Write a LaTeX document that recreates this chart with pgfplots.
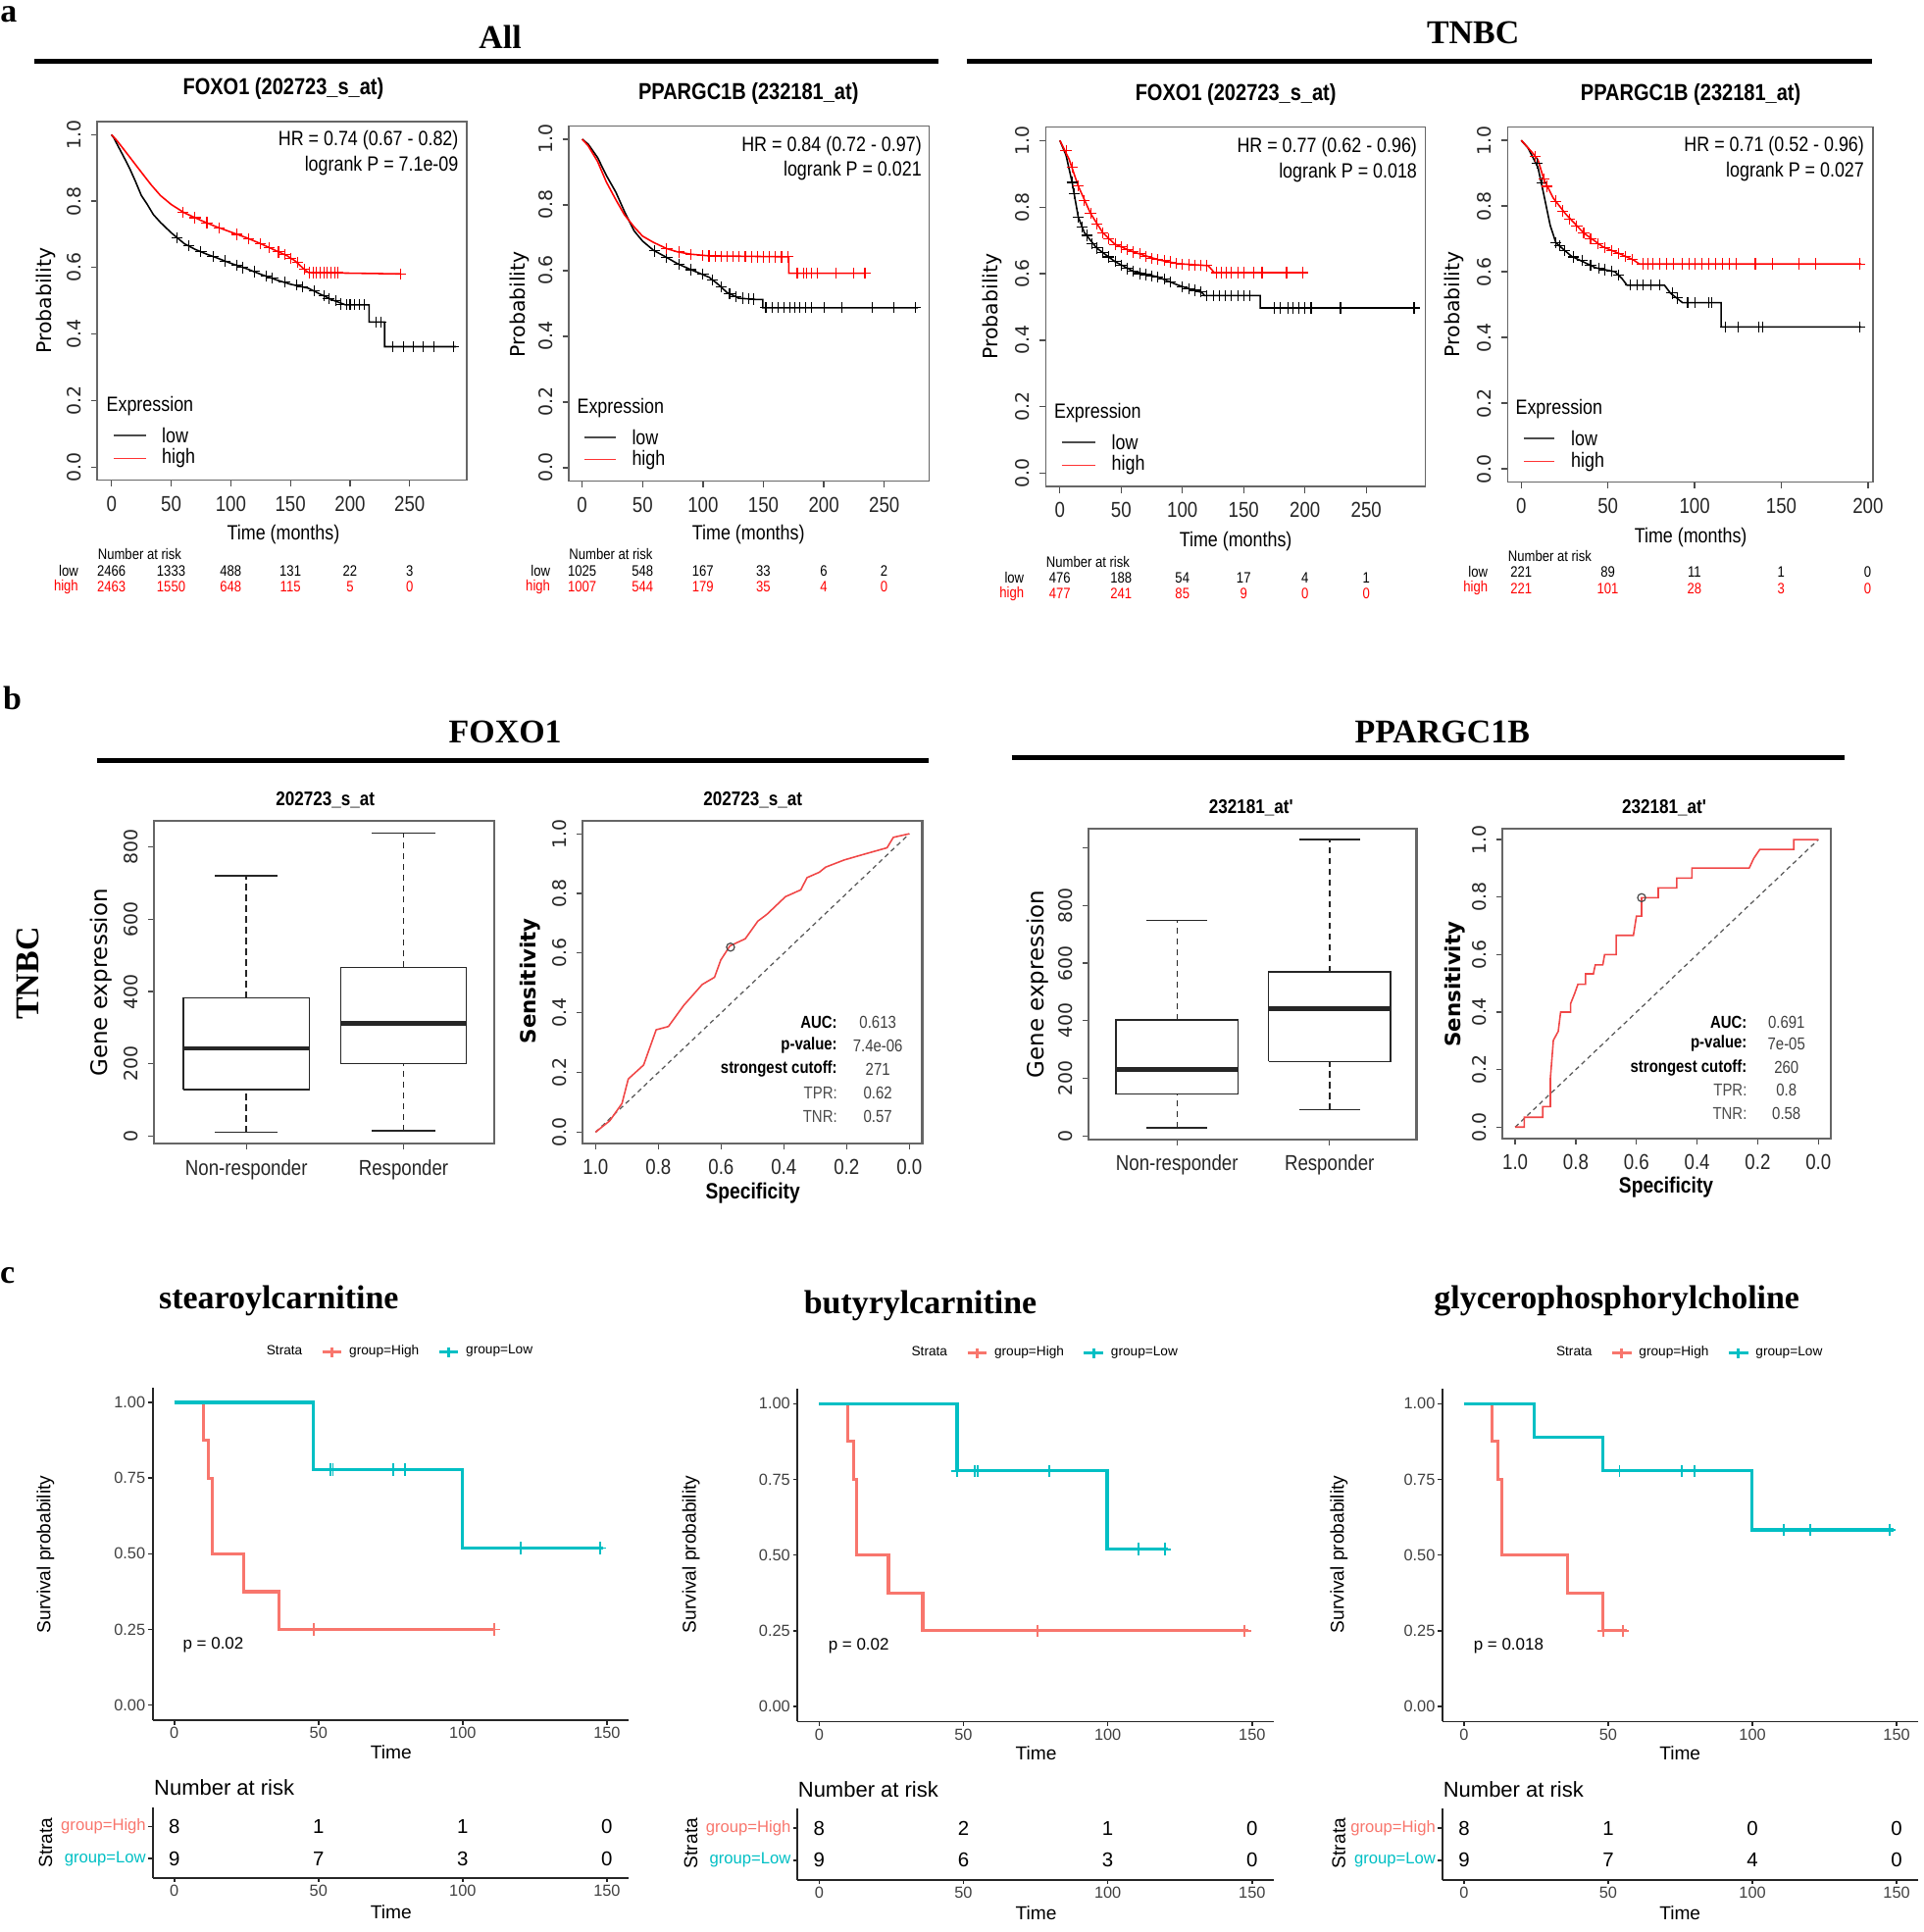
\documentclass[border=0pt]{standalone}
\usepackage{fontspec}
\setmainfont{Liberation Sans}
\newfontfamily\cond[FakeStretch=0.85]{Liberation Sans}
\newfontfamily\dejavu{DejaVu Sans}
\newfontfamily\timesf{Liberation Serif}
\usepackage{pgfplots}
\pgfplotsset{compat=1.18}

\definecolor{kmred}{HTML}{F8766D}
\definecolor{kmcyan}{HTML}{00BFC4}
\definecolor{rocred}{RGB}{240,70,70}

% fonts
\newcommand{\fTa}{\cond\bfseries\fontsize{7.5}{9}\selectfont}
\newcommand{\fHa}{\cond\fontsize{6.7}{8}\selectfont}
\newcommand{\fPa}{\dejavu\fontsize{6.5}{8}\selectfont}
\newcommand{\fRa}{\cond\fontsize{4.9}{6}\selectfont}
\newcommand{\fBig}{\timesf\bfseries\fontsize{10.8}{13}\selectfont}
\newcommand{\fTb}{\cond\bfseries\fontsize{6.4}{8}\selectfont}
\newcommand{\fGE}{\dejavu\fontsize{7.3}{9}\selectfont}
\newcommand{\fSe}{\dejavu\bfseries\fontsize{6.8}{8}\selectfont}
\newcommand{\fSp}{\cond\bfseries\fontsize{7.2}{9}\selectfont}
\newcommand{\fRoc}{\cond\fontsize{5.6}{7}\selectfont}
\newcommand{\fRocb}{\cond\bfseries\fontsize{5.6}{7}\selectfont}
\newcommand{\fC}{\fontsize{6.1}{7}\selectfont}

\tikzset{rn/.style={font=\fontsize{6.5}{7}\selectfont}}

\pgfplotsset{
  rbase/.style={scale only axis, axis line style={black!60, line width=0.5pt},
    tick style={black!70, line width=0.4pt}, tick align=outside, tick pos=left,
    major tick length=2pt,
    yticklabel style={rotate=90, anchor=south, inner sep=0pt, font=\dejavu\fontsize{6}{7}\selectfont, text=black!85},
    xticklabel style={inner sep=0pt, font=\cond\fontsize{7}{8}\selectfont, text=black!85},
    xticklabel shift=3pt, yticklabel shift=3pt},
  kma/.style={rbase, ymin=-0.04, ymax=1.04, ytick={0,0.2,0.4,0.6,0.8,1},
    yticklabels={0.0,0.2,0.4,0.6,0.8,1.0}},
  lowc/.style={black, line width=0.5pt},
  highc/.style={red, line width=0.5pt},
  cens/.style={only marks, mark=+, mark size=1.8pt, mark options={line width=0.35pt}},
  boxl/.style={black!85, line width=0.5pt},
  dsh/.style={black!85, line width=0.5pt, dash pattern=on 2pt off 1.5pt},
  gg/.style={scale only axis, axis lines=left, axis line style={-, black!85, line width=0.55pt},
    tick style={black!85, line width=0.5pt}, tick align=outside, major tick length=1.4pt,
    ticklabel style={font=\fontsize{5.2}{6}\selectfont, text=black!75},
    xticklabel style={inner sep=0.3pt}, xticklabel shift=0.4pt,
    xmin=-7.5, xmax=157.5, xtick={0,50,100,150}, xticklabels={0,50,100,150}},
  ggkm/.style={gg, ymin=-0.05, ymax=1.05, ytick={0,0.25,0.5,0.75,1},
    yticklabels={0.00,0.25,0.50,0.75,1.00},
    yticklabel style={inner sep=0.3pt}, yticklabel shift=0.5pt,
    legend columns=3,
    legend style={draw=none, fill=none, at={(0.519,1.106)}, anchor=center,
      font=\fontsize{4.35}{5}\selectfont, inner sep=0pt,
      /tikz/every even column/.append style={column sep=4pt}},
    legend image code/.code={\draw[mark repeat=2,mark phase=2,##1] plot coordinates {(0cm,0cm) (0.11cm,0cm) (0.22cm,0cm)};}},
  ggrisk/.style={gg, ymin=0.4, ymax=2.6, ytick={1,2},
    yticklabels={{\color{kmcyan}group=Low},{\color{kmred}group=High}},
    yticklabel style={font=\fontsize{5.3}{6}\selectfont, inner sep=0.6pt}},
  kmr/.style={kmred, line width=1pt},
  kmc/.style={kmcyan, line width=1pt},
  kmm/.style={only marks, mark=+, mark size=2pt, mark options={line width=0.6pt}},
}

\begin{document}
\begin{tikzpicture}[x=0.4pt, y=-0.4pt]
\useasboundingbox (0,0) rectangle (1561,1568);

% ================= panel a =================
\node[font=\fBig, inner sep=0, anchor=north] at (7,5) {a};
\node[font=\fBig] at (406,30) {All};
\node[font=\fBig] at (1195.6,27) {TNBC};
\draw[line width=1.6pt] (27.5,50) -- (761.5,50);
\draw[line width=1.6pt] (785,49.4) -- (1519.5,49.4);

% a1 FOXO1 all
\begin{axis}[kma, at={(31.6pt,-39.4pt)}, anchor=north west, width=120pt, height=116.5pt,
  xmin=-11.9, xmax=298, xtick={0,50,100,150,200,250}, xticklabels={0,50,100,150,200,250}]
\addplot[lowc] coordinates {(0,1)(2,0.99)(5,0.969)(10,0.935)(15,0.9)(20,0.86)(25,0.817)(30,0.79)(35,0.76)(41,0.736)(50,0.705)(61,0.672)(70,0.655)(80,0.64)(87,0.631)(100,0.613)(113,0.597)(125,0.58)(139,0.562)(150,0.55)(165,0.538)(175,0.52)(185,0.503)(196,0.488)(216,0.488)(216,0.436)(229,0.436)(229,0.362)(289,0.362)};
\addplot[lowc, cens] coordinates {(55,0.69)(65,0.665)(75,0.648)(85,0.633)(95,0.62)(105,0.607)(110,0.6)(120,0.588)(130,0.575)(135,0.568)(145,0.556)(155,0.547)(160,0.542)(170,0.53)(178,0.515)(182,0.507)(188,0.5)(192,0.49)(197,0.488)(200,0.488)(204,0.488)(208,0.488)(212,0.488)(222,0.436)(226,0.436)(236,0.362)(245,0.362)(253,0.362)(261,0.362)(270,0.362)(287,0.362)};
\addplot[highc] coordinates {(0,1)(5,0.98)(10,0.957)(17.5,0.922)(25,0.887)(33,0.85)(41,0.817)(50,0.79)(61,0.765)(75,0.742)(87,0.724)(100,0.707)(113,0.69)(125,0.672)(139,0.649)(147,0.636)(154,0.62)(160,0.6)(165,0.585)(242,0.581)};
\addplot[highc, cens] coordinates {(60,0.766)(70,0.75)(80,0.735)(90,0.72)(105,0.7)(115,0.687)(125,0.672)(132,0.66)(140,0.647)(145,0.64)(150,0.628)(156,0.615)(162,0.595)(166,0.585)(169,0.585)(172,0.585)(175,0.585)(178,0.585)(181,0.585)(184,0.585)(187,0.585)(190,0.585)(242,0.581)};
\end{axis}

% a2 PPARGC1B all
\begin{axis}[kma, at={(184.6pt,-40.92pt)}, anchor=north west, width=117pt, height=115.2pt,
  xmin=-11.2, xmax=287, xtick={0,50,100,150,200,250}, xticklabels={0,50,100,150,200,250}]
\addplot[lowc] coordinates {(0,1)(5,0.985)(12.8,0.944)(20,0.89)(28,0.838)(35,0.78)(43,0.721)(50,0.69)(59,0.662)(70,0.64)(79,0.621)(90,0.603)(105,0.58)(112,0.56)(120,0.533)(130,0.516)(145,0.512)(149.5,0.512)(149.5,0.487)(278,0.487)};
\addplot[lowc, cens] coordinates {(60,0.66)(70,0.64)(80,0.62)(90,0.603)(100,0.59)(108,0.572)(115,0.55)(122,0.53)(127,0.52)(133,0.516)(138,0.514)(142,0.513)(152,0.487)(157,0.487)(162,0.487)(167,0.487)(172,0.487)(176,0.487)(180,0.487)(185,0.487)(190,0.487)(200,0.487)(215,0.487)(240,0.487)(258,0.487)(276,0.487)};
\addplot[highc] coordinates {(0,1)(5,0.98)(12.8,0.932)(20,0.87)(28,0.815)(35,0.77)(43,0.733)(50,0.705)(59,0.686)(70,0.667)(79,0.657)(90,0.65)(105,0.645)(171,0.642)(171,0.592)(235,0.592)};
\addplot[highc, cens] coordinates {(70,0.667)(80,0.657)(90,0.65)(100,0.646)(105,0.645)(110,0.644)(115,0.644)(120,0.643)(125,0.643)(130,0.643)(135,0.643)(140,0.642)(145,0.642)(150,0.642)(155,0.642)(160,0.642)(165,0.642)(170,0.642)(178,0.592)(183,0.592)(186,0.592)(190,0.592)(195,0.592)(210,0.592)(225,0.592)(234,0.592)};
\end{axis}

% a3 FOXO1 TNBC
\begin{axis}[kma, at={(339.48pt,-41.28pt)}, anchor=north west, width=123.2pt, height=116.7pt,
  xmin=-11.6, xmax=298, xtick={0,50,100,150,200,250}, xticklabels={0,50,100,150,200,250}]
\addplot[lowc] coordinates {(0,1)(5,0.956)(10,0.874)(15,0.77)(20,0.723)(30,0.677)(45,0.636)(60,0.607)(80,0.59)(96,0.566)(105,0.555)(116,0.543)(118,0.534)(163.5,0.534)(163.5,0.497)(289,0.497)};
\addplot[lowc, cens] coordinates {(10,0.874)(12,0.84)(15,0.77)(18,0.74)(22,0.715)(26,0.69)(30,0.677)(35,0.664)(40,0.65)(45,0.636)(50,0.625)(55,0.615)(60,0.607)(65,0.6)(70,0.597)(75,0.593)(80,0.59)(85,0.583)(90,0.575)(100,0.561)(105,0.555)(110,0.55)(115,0.545)(120,0.534)(125,0.534)(130,0.534)(135,0.534)(140,0.534)(145,0.534)(150,0.534)(155,0.534)(175,0.497)(180,0.497)(186,0.497)(190,0.497)(195,0.497)(200,0.497)(205,0.497)(229,0.497)(289,0.497)};
\addplot[highc] coordinates {(0,1)(7.5,0.944)(15,0.863)(25,0.781)(35,0.723)(45,0.688)(60,0.665)(80,0.642)(96,0.63)(121,0.624)(126,0.603)(198,0.603)};
\addplot[highc, cens] coordinates {(5,0.97)(10,0.92)(15,0.863)(20,0.82)(25,0.781)(30,0.75)(35,0.723)(40,0.705)(45,0.688)(50,0.68)(55,0.672)(60,0.665)(65,0.66)(70,0.652)(75,0.646)(80,0.642)(85,0.64)(90,0.635)(95,0.63)(100,0.628)(105,0.627)(110,0.626)(115,0.625)(120,0.624)(128,0.603)(132,0.603)(136,0.603)(140,0.603)(145,0.603)(150,0.603)(158,0.603)(165,0.603)(185,0.603)(198,0.603)};
\end{axis}

% a4 PPARGC1B TNBC
\begin{axis}[kma, at={(489.44pt,-41.28pt)}, anchor=north west, width=118.6pt, height=115.2pt,
  xmin=-7.9, xmax=202.8, xtick={0,50,100,150,200}, xticklabels={0,50,100,150,200}]
\addplot[lowc] coordinates {(0,1)(4,0.976)(9.6,0.918)(13,0.835)(16.7,0.741)(20,0.688)(29,0.647)(43,0.612)(54,0.6)(58,0.58)(61,0.559)(82.6,0.559)(86,0.535)(93,0.506)(115.3,0.506)(115.3,0.432)(196,0.432)};
\addplot[lowc, cens] coordinates {(9,0.93)(12,0.87)(20,0.688)(22,0.68)(25,0.665)(30,0.645)(35,0.635)(40,0.62)(45,0.61)(48,0.606)(52,0.602)(56,0.59)(63,0.559)(67,0.559)(70,0.559)(75,0.559)(80,0.559)(87,0.535)(90,0.52)(96,0.506)(100,0.506)(108,0.506)(110,0.506)(118,0.432)(125,0.432)(137,0.432)(139,0.432)(195,0.432)};
\addplot[highc] coordinates {(0,1)(6,0.965)(9.6,0.941)(13,0.882)(18.5,0.824)(25.6,0.776)(36,0.718)(47,0.676)(57.6,0.653)(65,0.635)(68,0.624)(196,0.624)};
\addplot[highc, cens] coordinates {(8,0.95)(13,0.882)(15,0.86)(20,0.815)(24,0.785)(28,0.76)(32,0.74)(36,0.718)(40,0.7)(44,0.685)(48,0.674)(52,0.665)(56,0.656)(60,0.647)(64,0.637)(70,0.624)(73,0.624)(76,0.624)(80,0.624)(84,0.624)(88,0.624)(93,0.624)(97,0.624)(100,0.624)(104,0.624)(108,0.624)(112,0.624)(116,0.624)(120,0.624)(124,0.624)(135,0.624)(145,0.624)(160,0.624)(170,0.624)(195,0.624)};
\end{axis}

% a texts
\node[font=\fTa] at (230,72) {FOXO1 (202723\_s\_at)};
\node[font=\fTa] at (607.5,76) {PPARGC1B (232181\_at)};
\node[font=\fTa] at (1003,76.5) {FOXO1 (202723\_s\_at)};
\node[font=\fTa] at (1372.3,76.5) {PPARGC1B (232181\_at)};
\begin{scope}[every node/.style={font=\fHa, inner sep=0, anchor=east}]
\node at (372.5,114) {HR = 0.74 (0.67 - 0.82)};
\node at (372.5,134.7) {logrank P = 7.1e-09};
\node at (748.5,118.7) {HR = 0.84 (0.72 - 0.97)};
\node at (748.5,138.5) {logrank P = 0.021};
\node at (1150.6,119.6) {HR = 0.77 (0.62 - 0.96)};
\node at (1150.6,140) {logrank P = 0.018};
\node at (1513.5,119) {HR = 0.71 (0.52 - 0.96)};
\node at (1513.5,139.4) {logrank P = 0.027};
\end{scope}
\begin{scope}[every node/.style={font=\fPa, rotate=90}]
\node at (37.5,244) {Probability};
\node at (421.5,247) {Probability};
\node at (805,248.7) {Probability};
\node at (1180.6,247) {Probability};
\end{scope}
\begin{scope}[every node/.style={font=\fHa}]
\node at (230,434) {Time (months)};
\node at (607.5,434) {Time (months)};
\node at (1003,439.7) {Time (months)};
\node at (1372.3,436) {Time (months)};
\end{scope}
% legends
\begin{scope}[every node/.style={font=\fHa, inner sep=0, anchor=west}]
\node at (86,329.5) {Expression};
\draw[black!70, line width=0.5pt] (92.5,353.5) -- (118.5,353.5); \node at (131,353.5) {low};
\draw[red!80, line width=0.5pt] (92.5,372) -- (118.5,372); \node at (131,372) {high};
\node at (468,331) {Expression};
\draw[black!70, line width=0.5pt] (474,355) -- (500,355); \node at (512.5,355) {low};
\draw[red!80, line width=0.5pt] (474,373) -- (500,373); \node at (512.5,373) {high};
\node at (855.2,335) {Expression};
\draw[black!70, line width=0.5pt] (861.7,358.8) -- (888.7,358.8); \node at (901.8,358.8) {low};
\draw[red!80, line width=0.5pt] (861.7,377.7) -- (888.7,377.7); \node at (901.8,377.7) {high};
\node at (1229.7,332) {Expression};
\draw[black!70, line width=0.5pt] (1236.7,355.7) -- (1261.7,355.7); \node at (1274.7,355.7) {low};
\draw[red!80, line width=0.5pt] (1236.7,374.6) -- (1261.7,374.6); \node at (1274.7,374.6) {high};
\end{scope}
% numbers at risk
\begin{scope}[every node/.style={font=\fRa, inner sep=0}]
\node[anchor=west] at (79,450) {Number at risk};
\node[anchor=east] at (64,463.3) {low};
\node[anchor=east, text=red] at (64,476) {high};
\foreach \v [count=\i from 0] in {2466,1333,488,131,22,3} \node at ({90.5+48.4*\i},463.3) {\v};
\foreach \v [count=\i from 0] in {2463,1550,648,115,5,0} \node[text=red] at ({90.5+48.4*\i},476) {\v};
\node[anchor=west] at (461.5,450) {Number at risk};
\node[anchor=east] at (447,463.3) {low};
\node[anchor=east, text=red] at (447,476) {high};
\foreach \v [count=\i from 0] in {1025,548,167,33,6,2} \node at ({472.5+49*\i},463.3) {\v};
\foreach \v [count=\i from 0] in {1007,544,179,35,4,0} \node[text=red] at ({472.5+49*\i},476) {\v};
\node[anchor=west] at (848.7,455.8) {Number at risk};
\node[anchor=east] at (831.6,469) {low};
\node[anchor=east, text=red] at (831.6,481.6) {high};
\foreach \v [count=\i from 0] in {476,188,54,17,4,1} \node at ({860.2+49.75*\i},469) {\v};
\foreach \v [count=\i from 0] in {477,241,85,9,0,0} \node[text=red] at ({860.2+49.75*\i},481.6) {\v};
\node[anchor=west] at (1223.6,451) {Number at risk};
\node[anchor=east] at (1208,464.3) {low};
\node[anchor=east, text=red] at (1208,477.5) {high};
\foreach \v [count=\i from 0] in {221,89,11,1,0} \node at ({1234.7+70.3*\i},464.3) {\v};
\foreach \v [count=\i from 0] in {221,101,28,3,0} \node[text=red] at ({1234.7+70.3*\i},477.5) {\v};
\end{scope}

% ================= panel b =================
\node[font=\fBig, inner sep=0] at (10,567) {b};
\node[font=\fBig] at (410,594.2) {FOXO1};
\node[font=\fBig] at (1170.6,594.2) {PPARGC1B};
\draw[line width=1.6pt] (78.5,616.9) -- (754,616.9);
\draw[line width=1.6pt] (821.1,614.9) -- (1497,614.9);
\node[font=\fBig, rotate=90] at (22.5,790) {TNBC};

% box FOXO1
\begin{axis}[rbase, at={(50pt,-266.4pt)}, anchor=north west, width=110.4pt, height=104.8pt,
  xmin=0.412, xmax=2.576, ymin=-20.5, ymax=873, xtick={1,2}, xticklabels={Non-responder,Responder},
  ytick={0,200,400,600,800}, yticklabels={0,200,400,600,800},
  axis line style={black!60, line width=0.7pt}]
\addplot[boxl] coordinates {(0.6,129)(1.4,129)(1.4,382)(0.6,382)(0.6,129)};
\addplot[boxl, line width=1.5pt] coordinates {(0.6,242.6)(1.4,242.6)};
\addplot[dsh] coordinates {(1,382)(1,720.6)};
\addplot[dsh] coordinates {(1,10.6)(1,129)};
\addplot[boxl] coordinates {(0.8,720.6)(1.2,720.6)};
\addplot[boxl] coordinates {(0.8,10.6)(1.2,10.6)};
\addplot[boxl] coordinates {(1.6,201)(2.4,201)(2.4,467)(1.6,467)(1.6,201)};
\addplot[boxl, line width=1.5pt] coordinates {(1.6,312.6)(2.4,312.6)};
\addplot[dsh] coordinates {(2,467)(2,839)};
\addplot[dsh] coordinates {(2,14.7)(2,201)};
\addplot[boxl] coordinates {(1.8,839)(2.2,839)};
\addplot[boxl] coordinates {(1.8,14.7)(2.2,14.7)};
\end{axis}

% ROC FOXO1
\begin{axis}[rbase, at={(189.2pt,-266.4pt)}, anchor=north west, width=110.2pt, height=104.8pt,
  x dir=reverse, xmin=-0.041, xmax=1.041, ymin=-0.038, ymax=1.044,
  xtick={0,0.2,0.4,0.6,0.8,1}, xticklabels={0.0,0.2,0.4,0.6,0.8,1.0},
  ytick={0,0.2,0.4,0.6,0.8,1}, yticklabels={0.0,0.2,0.4,0.6,0.8,1.0},
  axis line style={black!60, line width=0.7pt}]
\addplot[black!65, line width=0.4pt, dash pattern=on 1.5pt off 1.2pt] coordinates {(1,0)(0,1)};
\addplot[rocred, line width=0.5pt] coordinates {(1,0)(0.955,0.038)(0.916,0.096)(0.896,0.178)(0.847,0.225)(0.827,0.284)(0.807,0.343)(0.768,0.354)(0.719,0.425)(0.66,0.495)(0.621,0.519)(0.601,0.577)(0.572,0.624)(0.523,0.648)(0.483,0.707)(0.454,0.73)(0.395,0.789)(0.346,0.812)(0.326,0.853)(0.287,0.871)(0.267,0.888)(0.208,0.912)(0.149,0.93)(0.071,0.953)(0.051,0.988)(0,1)};
\addplot[only marks, mark=o, mark size=1.3pt, black!70, mark options={line width=0.4pt}] coordinates {(0.57,0.62)};
\end{axis}

% box PPARGC1B
\begin{axis}[rbase, at={(353.48pt,-268.92pt)}, anchor=north west, width=106.4pt, height=100.9pt,
  xmin=0.421, xmax=2.571, ymin=-11.1, ymax=1067.6, xtick={1,2}, xticklabels={Non-responder,Responder},
  ytick={0,200,400,600,800,1000}, yticklabels={0,200,400,600,800,{}},
  axis line style={black!60, line width=0.7pt}]
\addplot[boxl] coordinates {(0.6,145.8)(1.4,145.8)(1.4,402.5)(0.6,402.5)(0.6,145.8)};
\addplot[boxl, line width=1.5pt] coordinates {(0.6,231)(1.4,231)};
\addplot[dsh] coordinates {(1,402.5)(1,747.6)};
\addplot[dsh] coordinates {(1,27.8)(1,145.8)};
\addplot[boxl] coordinates {(0.8,747.6)(1.2,747.6)};
\addplot[boxl] coordinates {(0.8,27.8)(1.2,27.8)};
\addplot[boxl] coordinates {(1.6,258.8)(2.4,258.8)(2.4,568.9)(1.6,568.9)(1.6,258.8)};
\addplot[boxl, line width=1.5pt] coordinates {(1.6,441.4)(2.4,441.4)};
\addplot[dsh] coordinates {(2,568.9)(2,1028.6)};
\addplot[dsh] coordinates {(2,91)(2,258.8)};
\addplot[boxl] coordinates {(1.8,1028.6)(2.2,1028.6)};
\addplot[boxl] coordinates {(1.8,91)(2.2,91)};
\end{axis}

% ROC PPARGC1B
\begin{axis}[rbase, at={(487.68pt,-268.92pt)}, anchor=north west, width=106.7pt, height=100.6pt,
  x dir=reverse, xmin=-0.041, xmax=1.043, ymin=-0.039, ymax=1.039,
  xtick={0,0.2,0.4,0.6,0.8,1}, xticklabels={0.0,0.2,0.4,0.6,0.8,1.0},
  ytick={0,0.2,0.4,0.6,0.8,1}, yticklabels={0.0,0.2,0.4,0.6,0.8,1.0},
  axis line style={black!60, line width=0.7pt}]
\addplot[black!65, line width=0.4pt, dash pattern=on 1.5pt off 1.2pt] coordinates {(1,0)(0,1)};
\addplot[rocred, line width=0.5pt] coordinates {(1,0)(0.97,0)(0.97,0.034)(0.909,0.034)(0.909,0.071)(0.884,0.071)(0.884,0.168)(0.874,0.302)(0.858,0.333)(0.85,0.4)(0.817,0.4)(0.817,0.43)(0.803,0.467)(0.793,0.497)(0.768,0.497)(0.768,0.533)(0.742,0.533)(0.736,0.564)(0.711,0.564)(0.705,0.6)(0.667,0.6)(0.667,0.667)(0.61,0.667)(0.6,0.734)(0.583,0.734)(0.583,0.798)(0.528,0.798)(0.528,0.832)(0.467,0.832)(0.467,0.866)(0.417,0.866)(0.417,0.901)(0.228,0.901)(0.213,0.935)(0.193,0.966)(0.081,0.966)(0.081,1)(0,1)};
\addplot[only marks, mark=o, mark size=1.3pt, black!70, mark options={line width=0.4pt}] coordinates {(0.583,0.798)};
\end{axis}

% b texts
\node[font=\fTb] at (264,649.6) {202723\_s\_at};
\node[font=\fTb] at (611,649.6) {202723\_s\_at};
\node[font=\fTb] at (1015.4,655.3) {232181\_at'};
\node[font=\fTb] at (1350.8,655.3) {232181\_at'};
\node[font=\fGE, rotate=90] at (82.5,797.4) {Gene expression};
\node[font=\fGE, rotate=90] at (842.5,798.8) {Gene expression};
\node[font=\fSe, rotate=90] at (430,796) {Sensitivity};
\node[font=\fSe, rotate=90] at (1180.6,798.8) {Sensitivity};
\node[font=\fSp] at (611,968) {Specificity};
\node[font=\fSp] at (1352.3,963.7) {Specificity};
\begin{scope}[every node/.style={inner sep=0}]
\node[font=\fRocb, anchor=east] at (680,829.5) {AUC:};
\node[font=\fRocb, anchor=east] at (680,848.5) {p-value:};
\node[font=\fRocb, anchor=east] at (680,867.6) {strongest cutoff:};
\node[font=\fRoc, anchor=east, text=black!70] at (680,886.9) {TPR:};
\node[font=\fRoc, anchor=east, text=black!70] at (680,906) {TNR:};
\node[font=\fRoc, text=black!75] at (712.5,829.5) {0.613};
\node[font=\fRoc, text=black!75] at (712.5,848.5) {7.4e-06};
\node[font=\fRoc, text=black!75] at (712.5,867.6) {271};
\node[font=\fRoc, text=black!75] at (712.5,886.9) {0.62};
\node[font=\fRoc, text=black!75] at (712.5,906) {0.57};
\node[font=\fRocb, anchor=east] at (1418.4,829.5) {AUC:};
\node[font=\fRocb, anchor=east] at (1418.4,847.1) {p-value:};
\node[font=\fRocb, anchor=east] at (1418.4,866.5) {strongest cutoff:};
\node[font=\fRoc, anchor=east, text=black!70] at (1418.4,884.9) {TPR:};
\node[font=\fRoc, anchor=east, text=black!70] at (1418.4,903.4) {TNR:};
\node[font=\fRoc, text=black!75] at (1450,829.5) {0.691};
\node[font=\fRoc, text=black!75] at (1450,847.1) {7e-05};
\node[font=\fRoc, text=black!75] at (1450,866.5) {260};
\node[font=\fRoc, text=black!75] at (1450,884.9) {0.8};
\node[font=\fRoc, text=black!75] at (1450,903.4) {0.58};
\end{scope}

% ================= panel c =================
\node[font=\fBig, inner sep=0] at (6,1035) {c};
\node[font=\fBig] at (226.3,1056.1) {stearoylcarnitine};
\node[font=\fBig] at (747,1059.6) {butyrylcarnitine};
\node[font=\fBig] at (1312.3,1056.1) {glycerophosphorylcholine};

% c1
\begin{axis}[ggkm, at={(49.56pt,-450.36pt)}, anchor=north west, width=154.5pt, height=108.1pt]
\addlegendimage{empty legend}\addlegendentry{Strata}
\addlegendimage{kmr, mark=+, mark size=1.6pt}\addlegendentry{group=High}
\addlegendimage{kmc, mark=+, mark size=1.6pt}\addlegendentry{group=Low}
\addplot[kmr, forget plot] coordinates {(0,1)(10,1)(10,0.875)(11.8,0.875)(11.8,0.75)(13.2,0.75)(13.2,0.5)(24.1,0.5)(24.1,0.375)(36.3,0.375)(36.3,0.25)(111,0.25)};
\addplot[kmred, kmm, forget plot] coordinates {(48.4,0.25)(110.8,0.25)};
\addplot[kmc, forget plot] coordinates {(0,1)(48.1,1)(48.1,0.778)(100,0.778)(100,0.519)(148.6,0.519)};
\addplot[kmcyan, kmm, forget plot] coordinates {(54.3,0.778)(55,0.778)(76,0.778)(80,0.778)(120,0.519)(147.6,0.519)};
\end{axis}
\begin{axis}[ggrisk, at={(49.56pt,-586.76pt)}, anchor=north west, width=154.5pt, height=22.8pt]
\addplot[draw=none, forget plot] coordinates {(0,1)(150,2)};
\node[rn] at (axis cs:0,2) {8};
\node[rn] at (axis cs:50,2) {1};
\node[rn] at (axis cs:100,2) {1};
\node[rn] at (axis cs:150,2) {0};
\node[rn] at (axis cs:0,1) {9};
\node[rn] at (axis cs:50,1) {7};
\node[rn] at (axis cs:100,1) {3};
\node[rn] at (axis cs:150,1) {0};
\end{axis}

% c2
\begin{axis}[ggkm, at={(258.92pt,-450.76pt)}, anchor=north west, width=154.6pt, height=108.1pt]
\addlegendimage{empty legend}\addlegendentry{Strata}
\addlegendimage{kmr, mark=+, mark size=1.6pt}\addlegendentry{group=High}
\addlegendimage{kmc, mark=+, mark size=1.6pt}\addlegendentry{group=Low}
\addplot[kmr, forget plot] coordinates {(0,1)(9.9,1)(9.9,0.875)(11.8,0.875)(11.8,0.75)(12.9,0.75)(12.9,0.5)(24,0.5)(24,0.375)(35.9,0.375)(35.9,0.25)(148.6,0.25)};
\addplot[kmred, kmm, forget plot] coordinates {(75.8,0.25)(147.5,0.25)};
\addplot[kmc, forget plot] coordinates {(0,1)(47.8,1)(47.8,0.778)(99.8,0.778)(99.8,0.519)(121,0.519)};
\addplot[kmcyan, kmm, forget plot] coordinates {(47.8,0.778)(53.8,0.778)(54.8,0.778)(79.7,0.778)(110.8,0.519)(119.9,0.519)};
\end{axis}
\begin{axis}[ggrisk, at={(258.92pt,-587.2pt)}, anchor=north west, width=154.6pt, height=23pt]
\addplot[draw=none, forget plot] coordinates {(0,1)(150,2)};
\node[rn] at (axis cs:0,2) {8};
\node[rn] at (axis cs:50,2) {2};
\node[rn] at (axis cs:100,2) {1};
\node[rn] at (axis cs:150,2) {0};
\node[rn] at (axis cs:0,1) {9};
\node[rn] at (axis cs:50,1) {6};
\node[rn] at (axis cs:100,1) {3};
\node[rn] at (axis cs:150,1) {0};
\end{axis}

% c3
\begin{axis}[ggkm, at={(468.28pt,-450.76pt)}, anchor=north west, width=154.5pt, height=108.1pt]
\addlegendimage{empty legend}\addlegendentry{Strata}
\addlegendimage{kmr, mark=+, mark size=1.6pt}\addlegendentry{group=High}
\addlegendimage{kmc, mark=+, mark size=1.6pt}\addlegendentry{group=Low}
\addplot[kmr, forget plot] coordinates {(0,1)(9.75,1)(9.75,0.875)(11.8,0.875)(11.8,0.75)(13,0.75)(13,0.5)(35.9,0.5)(35.9,0.375)(48,0.375)(48,0.25)(56.4,0.25)};
\addplot[kmred, kmm, forget plot] coordinates {(48.3,0.25)(55,0.25)};
\addplot[kmc, forget plot] coordinates {(0,1)(24.4,1)(24.4,0.889)(48,0.889)(48,0.778)(99.9,0.778)(99.9,0.583)(149,0.583)};
\addplot[kmcyan, kmm, forget plot] coordinates {(53.9,0.778)(75.6,0.778)(79.8,0.778)(111,0.583)(120,0.583)(147.6,0.583)};
\end{axis}
\begin{axis}[ggrisk, at={(468.28pt,-587.2pt)}, anchor=north west, width=154.5pt, height=23pt]
\addplot[draw=none, forget plot] coordinates {(0,1)(150,2)};
\node[rn] at (axis cs:0,2) {8};
\node[rn] at (axis cs:50,2) {1};
\node[rn] at (axis cs:100,2) {0};
\node[rn] at (axis cs:150,2) {0};
\node[rn] at (axis cs:0,1) {9};
\node[rn] at (axis cs:50,1) {7};
\node[rn] at (axis cs:100,1) {4};
\node[rn] at (axis cs:150,1) {0};
\end{axis}

% c texts
\begin{scope}[every node/.style={font=\fC}]
\node[rotate=90] at (37,1261.5) {Survival probability};
\node[rotate=90] at (560.8,1261.5) {Survival probability};
\node[rotate=90] at (1086.7,1261.5) {Survival probability};
\node at (317.5,1422) {Time};
\node at (840.9,1422.8) {Time};
\node at (1363.6,1422.8) {Time};
\node at (317.5,1551.5) {Time};
\node at (840.9,1552.2) {Time};
\node at (1363.6,1552.2) {Time};
\node[rotate=90] at (37,1495.6) {Strata};
\node[rotate=90] at (560.8,1496) {Strata};
\node[rotate=90] at (1086.7,1496) {Strata};
\end{scope}
\begin{scope}[every node/.style={inner sep=0, anchor=west}]
\node[font=\fontsize{5.4}{6}\selectfont] at (148,1335) {p = 0.02};
\node[font=\fontsize{5.4}{6}\selectfont] at (671.9,1335.7) {p = 0.02};
\node[font=\fontsize{5.4}{6}\selectfont] at (1195.6,1335.7) {p = 0.018};
\node[font=\fontsize{7}{8}\selectfont] at (124.6,1450.7) {Number at risk};
\node[font=\fontsize{7}{8}\selectfont] at (647.3,1452) {Number at risk};
\node[font=\fontsize{7}{8}\selectfont] at (1171,1452) {Number at risk};
\end{scope}
\end{tikzpicture}
\end{document}
